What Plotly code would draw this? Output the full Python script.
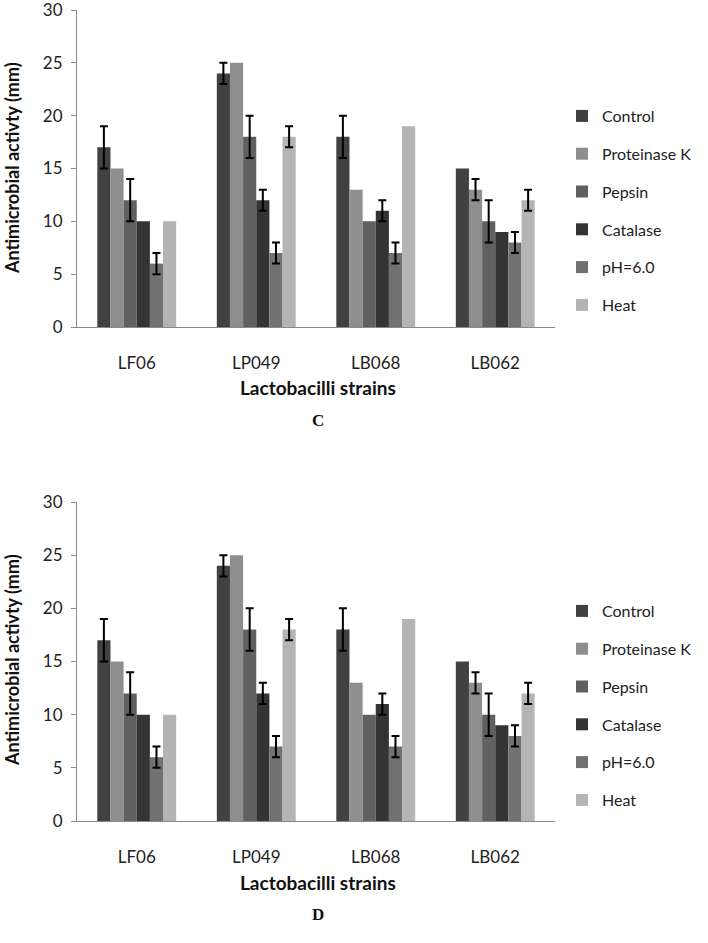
import numpy as np
import plotly.graph_objects as go

strains = ["LF06", "LP049", "LB068", "LB062"]
series_names = ["Control", "Proteinase K", "Pepsin", "Catalase", "pH=6.0", "Heat"]
values = {
    "Control":      [17, 24, 18, 15],
    "Proteinase K": [15, 25, 13, 13],
    "Pepsin":       [12, 18, 10, 10],
    "Catalase":     [10, 12, 11, 9],
    "pH=6.0":       [6, 7, 7, 8],
    "Heat":         [10, 18, 19, 12],
}
# None = no error bar drawn
errors = {
    "Control":      [2, 1, 2, None],
    "Proteinase K": [None, None, None, 1],
    "Pepsin":       [2, 2, None, 2],
    "Catalase":     [None, 1, 1, None],
    "pH=6.0":       [1, 1, 1, 1],
    "Heat":         [None, 1, None, 1],
}
colors = {
    "Control": "#414141",
    "Proteinase K": "#8e8e8e",
    "Pepsin": "#606060",
    "Catalase": "#343434",
    "pH=6.0": "#717171",
    "Heat": "#b4b4b4",
}
panel_labels = ["C", "D"]

H = 943.0
W = 708.0
FONT = "Lato"

fig = go.Figure()

panels = [
    dict(xa="x", ya="y", top=10, bottom=327, legend="legend", legtop=99),
    dict(xa="x2", ya="y2", top=502, bottom=821, legend="legend2", legtop=594),
]

for p in panels:
    for name in series_names:
        err = np.array([np.nan if e is None else float(e) for e in errors[name]])
        fig.add_trace(go.Bar(
            x=strains, y=values[name], name=name,
            marker=dict(color=colors[name], line=dict(width=0)),
            error_y=dict(type="data", array=err, visible=True,
                         color="black", thickness=2, width=4),
            xaxis=p["xa"], yaxis=p["ya"], legend=p["legend"],
            legendgroup=p["legend"] + name,
        ))

xdom = [77 / W, 555 / W]
layout = dict(
    width=708, height=943,
    margin=dict(l=0, r=0, t=0, b=0, autoexpand=False),
    paper_bgcolor="white", plot_bgcolor="white",
    barmode="group", bargap=0.34, bargroupgap=0,
    font=dict(family=FONT, size=15, color="#222"),
    showlegend=True,
)
annotations = []
for i, p in enumerate(panels):
    sfx = "" if i == 0 else str(i + 1)
    ydom = [1 - p["bottom"] / H, 1 - p["top"] / H]
    layout["xaxis" + sfx] = dict(
        domain=xdom, anchor="y" + sfx, showline=True, linecolor="#8a8a8a",
        linewidth=1, ticks="", showgrid=False, tickfont=dict(size=17, color="#222"),
        ticklabelstandoff=21, automargin=False,
    )
    layout["yaxis" + sfx] = dict(
        domain=ydom, anchor="x" + sfx, range=[0, 30], dtick=5, showline=True,
        linecolor="#8a8a8a", linewidth=1, ticks="outside", ticklen=5,
        tickcolor="#8a8a8a", showgrid=False, zeroline=False,
        tickfont=dict(size=17, color="#222"), ticklabelstandoff=5, automargin=False,
        ticklabeloverflow="allow",
    )
    layout[p["legend"]] = dict(
        x=562 / W, xanchor="left", y=1 - p["legtop"] / H,
        yanchor="top", traceorder="grouped", tracegroupgap=14,
        font=dict(size=16, family=FONT, color="#222"), bgcolor="rgba(0,0,0,0)",
        itemwidth=30,
    )
    annotations.append(dict(
        text="<b>Antimicrobial activty (mm)</b>", xref="paper", yref="paper",
        x=12 / W, y=1 - (p["top"] + 158) / H, textangle=-90, showarrow=False,
        font=dict(size=18, family=FONT, color="#111"), xanchor="center", yanchor="middle",
    ))
    annotations.append(dict(
        text="<b>Lactobacilli strains</b>", xref="paper", yref="paper",
        x=318 / W, y=1 - (p["bottom"] + 61) / H, showarrow=False,
        font=dict(size=19, family=FONT, color="#111"), xanchor="center", yanchor="middle",
    ))
    annotations.append(dict(
        text="<b>" + panel_labels[i] + "</b>", xref="paper", yref="paper",
        x=318 / W, y=1 - (p["bottom"] + 93) / H, showarrow=False,
        font=dict(size=17, family="Liberation Serif", color="#111"),
        xanchor="center", yanchor="middle",
    ))
layout["annotations"] = annotations
fig.update_layout(**layout)
fig.write_html("out.html", config={"displayModeBar": False},
               post_script="document.body.style.margin='0';document.body.style.overflow='hidden';")
